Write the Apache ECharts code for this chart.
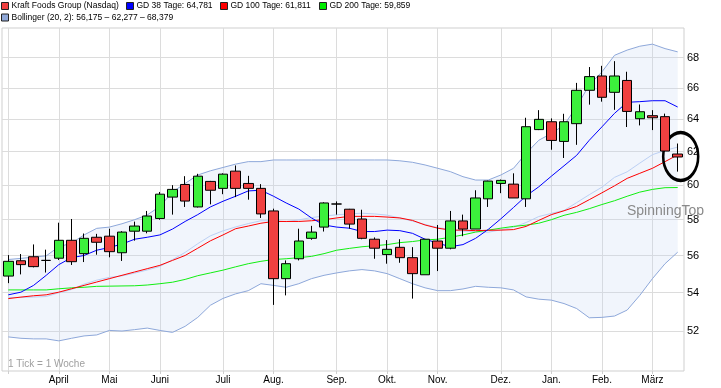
<!DOCTYPE html>
<html><head><meta charset="utf-8">
<script src="https://cdn.jsdelivr.net/npm/echarts@6/dist/echarts.min.js"></script>
<style>html,body{margin:0;padding:0;background:#fff}#c{width:721px;height:388px}</style>
</head><body><div id="c"></div>
<script>
const weeks = ['2014-03-03','2014-03-10','2014-03-17','2014-03-24','2014-03-31','2014-04-07','2014-04-14','2014-04-21','2014-04-28','2014-05-05','2014-05-12','2014-05-19','2014-05-26','2014-06-02','2014-06-09','2014-06-16','2014-06-23','2014-06-30','2014-07-07','2014-07-14','2014-07-21','2014-07-28','2014-08-04','2014-08-11','2014-08-18','2014-08-25','2014-09-01','2014-09-08','2014-09-15','2014-09-22','2014-09-29','2014-10-06','2014-10-13','2014-10-20','2014-10-27','2014-11-03','2014-11-10','2014-11-17','2014-11-24','2014-12-01','2014-12-08','2014-12-15','2014-12-22','2014-12-29','2015-01-05','2015-01-12','2015-01-19','2015-01-26','2015-02-02','2015-02-09','2015-02-16','2015-02-23','2015-03-02','2015-03-09'];
const opens  = [54.88,55.71,55.93,55.73,55.85,56.84,56.10,57.01,57.07,56.15,57.35,57.35,58.07,59.30,60.04,58.73,60.22,59.81,60.83,60.10,59.81,58.50,54.74,55.82,56.95,57.58,58.90,58.60,58.04,56.90,56.05,56.45,55.88,54.95,56.80,56.40,57.93,57.47,59.20,60.10,60.06,59.20,63.36,63.85,62.63,63.73,65.85,66.78,65.72,66.49,64.04,64.23,64.17,61.86];
const closes = [55.68,55.50,55.39,55.73,56.84,55.66,56.95,56.73,56.21,57.30,57.64,58.21,59.47,59.75,59.07,60.53,59.70,60.65,59.81,59.81,58.33,54.74,55.55,56.80,57.30,58.96,58.90,57.75,56.95,56.40,56.34,55.88,55.01,56.90,56.40,57.93,57.47,59.25,60.24,60.28,59.25,63.54,64.00,62.69,63.85,65.85,66.74,65.40,66.78,64.50,64.48,64.10,62.04,61.68];
const lows   = [54.50,54.97,55.35,55.07,55.75,55.48,55.64,56.04,55.90,55.70,56.82,57.23,58.00,58.29,58.73,58.70,58.88,59.47,59.30,59.15,58.10,53.35,53.85,55.73,56.87,57.33,58.29,57.49,56.90,55.82,55.55,55.60,53.68,54.95,55.15,56.34,57.07,57.47,58.73,59.53,59.25,58.73,63.33,62.12,61.62,62.42,64.93,65.12,64.60,63.52,63.62,63.33,62.00,60.80];
const highs  = [56.02,56.08,56.61,56.32,57.83,58.04,57.22,57.20,57.49,57.35,57.89,58.50,59.60,60.00,60.53,60.67,60.25,60.70,61.17,60.55,60.06,58.63,55.73,57.49,57.65,59.00,59.05,58.62,58.57,57.00,56.85,56.90,56.46,56.90,57.70,58.50,58.29,59.70,60.26,60.33,60.70,64.10,64.58,64.06,64.35,66.33,67.37,67.45,67.76,67.06,64.94,64.58,64.36,62.50];
const gd38  = [53.88,54.02,54.38,54.92,55.50,55.88,56.00,56.29,56.44,56.63,56.90,57.01,57.14,57.47,57.90,58.29,58.73,59.06,59.35,59.66,59.70,59.35,58.96,58.61,58.10,57.70,57.58,57.52,57.33,57.33,57.41,57.38,57.23,56.90,56.68,56.48,56.60,56.95,57.45,58.05,58.70,59.37,59.90,60.53,61.15,61.78,62.70,63.53,64.38,65.08,65.12,65.18,65.18,64.78];
const gd100 = [53.68,53.76,53.83,53.88,54.02,54.20,54.38,54.56,54.74,54.92,55.10,55.28,55.46,55.73,56.00,56.40,56.81,57.14,57.49,57.64,57.80,57.90,57.90,57.90,57.94,58.00,58.10,58.19,58.19,58.19,58.15,58.10,57.96,57.70,57.52,57.41,57.41,57.38,57.40,57.41,57.44,57.62,57.96,58.29,58.51,58.76,59.15,59.55,59.96,60.40,60.70,61.00,61.40,61.81];
const gd200 = [54.14,54.14,54.14,54.14,54.20,54.25,54.28,54.33,54.34,54.35,54.36,54.40,54.47,54.55,54.70,54.90,55.05,55.20,55.38,55.55,55.68,55.78,55.82,55.88,55.95,56.10,56.29,56.39,56.48,56.54,56.60,56.71,56.77,56.86,56.90,57.01,57.14,57.30,57.41,57.52,57.62,57.69,57.80,58.00,58.25,58.42,58.63,58.87,59.09,59.35,59.59,59.75,59.85,59.86];
const bbUpper = [55.78,55.84,55.91,55.98,56.48,56.68,57.14,57.51,57.58,57.77,58.00,58.27,58.76,59.60,60.10,60.60,60.85,61.05,61.25,61.40,61.40,61.50,61.50,61.50,61.50,61.50,61.50,61.50,61.50,61.50,61.50,61.45,61.36,61.20,61.00,60.80,60.50,60.30,60.30,60.60,61.00,61.90,62.70,63.12,63.64,64.80,66.20,67.05,68.15,68.50,68.76,68.90,68.60,68.38];
const bbMiddle = [53.74,53.74,53.76,53.79,53.99,54.16,54.45,54.66,54.81,54.89,55.04,55.21,55.40,55.77,56.17,56.65,57.09,57.37,57.59,57.78,57.94,57.94,57.89,57.99,58.12,58.21,58.28,58.33,58.37,58.33,58.26,58.10,57.92,57.73,57.55,57.45,57.35,57.32,57.29,57.43,57.57,57.84,58.18,58.36,58.53,58.98,59.44,59.88,60.46,60.79,61.31,61.82,62.08,62.28];
const bbLower = [51.70,51.63,51.60,51.60,51.50,51.63,51.75,51.80,52.03,52.00,52.07,52.15,52.03,51.93,52.24,52.70,53.33,53.69,53.93,54.10,54.47,54.38,54.28,54.47,54.74,54.92,55.05,55.16,55.23,55.16,55.01,54.74,54.47,54.25,54.10,54.10,54.19,54.33,54.28,54.25,54.14,53.77,53.65,53.60,53.42,53.16,52.68,52.70,52.77,53.08,53.85,54.74,55.55,56.18];
const monthTicks = [0,4,8,12,17,21,26,30,34,39,43,47,51];
const monthLabels = ['','April','Mai','Juni','Juli','Aug.','Sep.','Okt.','Nov.','Dez.','Jan.','Feb.','März'];
const yTicks = [52,54,56,58,60,62,64,66,68];
const names = {
  stock: 'Kraft Foods Group (Nasdaq)',
  gd38: 'GD 38 Tage: 64,781',
  gd100: 'GD 100 Tage: 61,811',
  gd200: 'GD 200 Tage: 59,859',
  bb: 'Bollinger (20, 2): 56,175 – 62,277 – 68,379'
};

const FONT = "'Liberation Sans', Arial, sans-serif";
function lg(name, color, left, top) {
  return {
    left: left, top: top, padding: 0, itemGap: 0, itemWidth: 7, itemHeight: 7,
    icon: 'rect', selectedMode: false, orient: 'horizontal',
    textStyle: { fontFamily: FONT, fontSize: 8.5, color: '#000', lineHeight: 11, padding: [0, 0, 0, -2] },
    data: [{ name: name, icon: 'rect', itemStyle: { color: color, borderColor: '#222', borderWidth: 1 } }]
  };
}
const candleData = weeks.map((w, i) => [opens[i], closes[i], lows[i], highs[i]]);
const bandDiff = bbUpper.map((u, i) => +(u - bbLower[i]).toFixed(3));
const bandColor = '#8ea8da';

const chart = echarts.init(document.getElementById('c'), null, { renderer: 'canvas' });
chart.setOption({
  animation: false,
  backgroundColor: '#fff',
  grid: { left: 2, right: 37, top: 28, bottom: 17, show: true, borderColor: '#cfcfcf', borderWidth: 1, backgroundColor: '#fff' },
  legend: [
    lg(names.stock, '#f04040', 1, 0.5),
    lg(names.gd38, '#0000ff', 126, 0.5),
    lg(names.gd100, '#ff0000', 220, 0.5),
    lg(names.gd200, '#00ee00', 319, 0.5),
    lg(names.bb, '#90a8d8', 1, 12)
  ],
  xAxis: [
    { type: 'category', data: weeks, boundaryGap: true, show: false },
    {
      type: 'value', min: -0.5, max: 53.5, position: 'bottom',
      axisLine: { show: false },
      axisTick: { show: true, customValues: monthTicks, length: 3, lineStyle: { color: '#cfcfcf' } },
      axisLabel: {
        customValues: monthTicks, color: '#000', fontSize: 10, fontFamily: FONT, margin: 4,
        formatter: function (v) { const k = monthTicks.indexOf(Math.round(v)); return k >= 0 ? monthLabels[k] : ''; }
      },
      splitLine: { show: true, lineStyle: { color: '#dcdcdc', width: 1 } }
    }
  ],
  yAxis: {
    type: 'log', logBase: 10, min: 50, max: 70, position: 'right',
    axisLine: { show: false },
    axisTick: { show: false, customValues: yTicks },
    axisLabel: { customValues: yTicks, color: '#000', fontSize: 11, fontFamily: FONT, margin: 3 },
    splitLine: { show: true, lineStyle: { color: '#dcdcdc', width: 1 } }
  },
  graphic: [
    { type: 'text', left: 8, top: 359.5, z: 100, silent: true, style: { text: '1 Tick = 1 Woche', fill: '#a0a0a0', font: "10px 'Liberation Sans', Arial" } },
    { type: 'text', left: 627, top: 204.5, z: 100, silent: true, style: { text: 'SpinningTop', fill: '#8a8a8a', font: "14px 'Liberation Sans', Arial" } }
  ],
  series: [
    { name: 'bbLowerBase', type: 'line', data: bbLower, stack: 'bb', symbol: 'none', silent: true, z: 1,
      lineStyle: { color: bandColor, width: 1 } },
    { name: names.bb, type: 'line', data: bandDiff, stack: 'bb', symbol: 'none', silent: true, z: 1,
      itemStyle: { color: '#90a8d8' },
      lineStyle: { color: bandColor, width: 1 }, areaStyle: { color: 'rgba(195,213,243,0.333)' } },
    { name: 'bbMiddle', type: 'line', data: bbMiddle, symbol: 'none', silent: true, z: 2,
      lineStyle: { color: '#bcd0f4', width: 1 } },
    { name: names.gd200, type: 'line', data: gd200, symbol: 'none', silent: true, z: 3,
      itemStyle: { color: '#00ee00' }, lineStyle: { color: '#11ee11', width: 1 } },
    { name: names.gd100, type: 'line', data: gd100, symbol: 'none', silent: true, z: 3,
      itemStyle: { color: '#ff0000' }, lineStyle: { color: '#ff0000', width: 1 } },
    { name: names.gd38, type: 'line', data: gd38, symbol: 'none', silent: true, z: 3,
      itemStyle: { color: '#0000ff' }, lineStyle: { color: '#0000ff', width: 1 } },
    { name: names.stock, type: 'candlestick', data: candleData, barWidth: 10, z: 5,
      itemStyle: { color: '#3cf03c', color0: '#f04040', borderColor: '#000', borderColor0: '#000', borderWidth: 1 },
      markPoint: {
        silent: true, symbol: 'circle', symbolSize: [35, 48], symbolOffset: [3, 0],
        itemStyle: { color: 'rgba(0,0,0,0)', borderColor: '#000', borderWidth: 3 },
        label: { show: false },
        data: [{ coord: [weeks[53], 61.71] }]
      }
    }
  ]
});
</script></body></html>
